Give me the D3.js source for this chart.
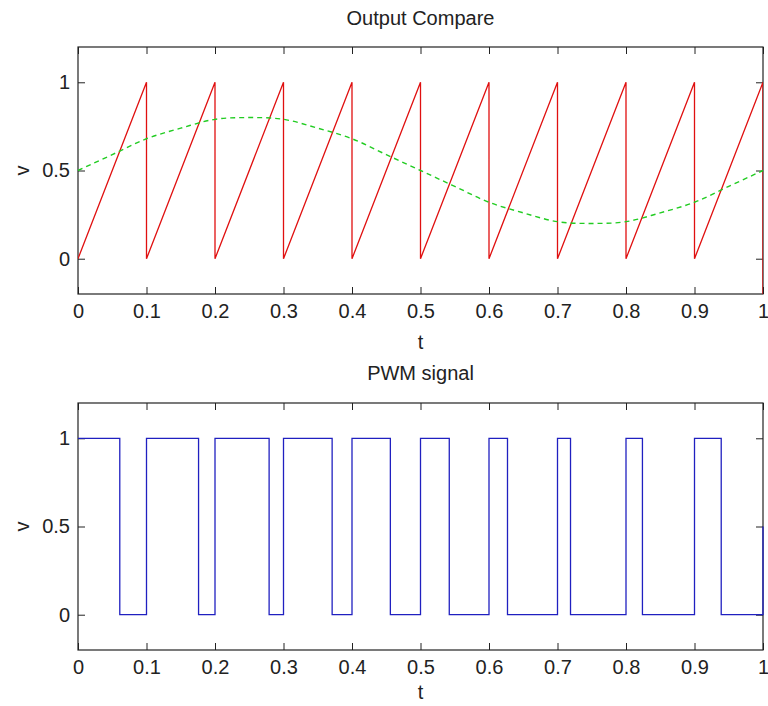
<!DOCTYPE html>
<html>
<head>
<meta charset="utf-8">
<script src="https://cdn.jsdelivr.net/npm/d3@7"></script>
<style>
  body { margin: 0; background: #fff; }
  svg text { font-family: "Liberation Sans", Arial, sans-serif; fill: #222; }
</style>
</head>
<body>
<svg id="chart" width="768" height="706"></svg>
<script>
// tick labels
var xTicks = [0, 0.1, 0.2, 0.3, 0.4, 0.5, 0.6, 0.7, 0.8, 0.9, 1];
var yTicks = [0, 0.5, 1];

// sawtooth carrier (red)
var sawT = [0, 0.1, 0.1, 0.2, 0.2, 0.3, 0.3, 0.4, 0.4, 0.5, 0.5, 0.6, 0.6, 0.7, 0.7, 0.8, 0.8, 0.9, 0.9, 1, 1];
var sawV = [0, 1, 0, 1, 0, 1, 0, 1, 0, 1, 0, 1, 0, 1, 0, 1, 0, 1, 0, 1, -0.2];

// reference signal (green dashed)
var refT = [0, 0.05, 0.1, 0.15, 0.2, 0.25, 0.3, 0.35, 0.4, 0.45, 0.5, 0.55, 0.6, 0.65, 0.7, 0.75, 0.8, 0.85, 0.9, 0.95, 1];
var refV = [0.5, 0.59, 0.68, 0.74, 0.79, 0.8, 0.79, 0.74, 0.68, 0.59, 0.5, 0.41, 0.32, 0.26, 0.21, 0.2, 0.21, 0.26, 0.32, 0.41, 0.5];

// PWM output edges (blue)
var pwmT = [0, 0.061, 0.1, 0.176, 0.2, 0.279, 0.3, 0.371, 0.4, 0.456, 0.5, 0.542, 0.6, 0.627, 0.7, 0.719, 0.8, 0.824, 0.9, 0.939, 1];
var pwmV = [1, 0, 1, 0, 1, 0, 1, 0, 1, 0, 1, 0, 1, 0, 1, 0, 1, 0, 1, 0, 0.5];

var svg = d3.select("#chart");
var left = 78, right = 763;

var x = d3.scaleLinear().domain([0, 1]).range([left, right]);

function panel(top, bottom, title, titleY, tLabelY, idx) {
  var y = d3.scaleLinear().domain([-0.2, 1.2]).range([bottom, top]);
  var g = svg.append("g");

  g.append("clipPath").attr("id", "clip" + idx)
    .append("rect").attr("x", left).attr("y", top)
    .attr("width", right - left).attr("height", bottom - top);

  var fmt = d3.format("~g");

  g.append("g").attr("transform", "translate(0," + bottom + ")")
    .call(d3.axisBottom(x).tickValues(xTicks).tickSize(-7).tickPadding(10).tickFormat(fmt));
  g.append("g").attr("transform", "translate(0," + top + ")")
    .call(d3.axisTop(x).tickValues(xTicks).tickSize(-7).tickFormat(""));
  g.append("g").attr("transform", "translate(" + left + ",0)")
    .call(d3.axisLeft(y).tickValues(yTicks).tickSize(-7).tickPadding(8).tickFormat(fmt));
  g.append("g").attr("transform", "translate(" + right + ",0)")
    .call(d3.axisRight(y).tickValues(yTicks).tickSize(-7).tickFormat(""));

  g.selectAll(".domain").remove();
  g.selectAll(".tick line").attr("stroke", "#222");
  g.selectAll(".tick text").style("font-size", "20px").attr("fill", "#222");

  g.append("rect").attr("x", left).attr("y", top)
    .attr("width", right - left).attr("height", bottom - top)
    .attr("fill", "none").attr("stroke", "#222").attr("stroke-width", 1.2);

  g.append("text").attr("x", (left + right) / 2).attr("y", titleY)
    .attr("text-anchor", "middle").attr("dominant-baseline", "central")
    .style("font-size", "20px").text(title);

  g.append("text").attr("x", (left + right) / 2).attr("y", tLabelY)
    .attr("text-anchor", "middle").attr("dominant-baseline", "central")
    .style("font-size", "20px").text("t");

  g.append("text")
    .attr("transform", "translate(22," + y(0.5) + ") rotate(-90)")
    .attr("text-anchor", "middle").attr("dominant-baseline", "central")
    .style("font-size", "20px").text("v");

  return { g: g, y: y };
}

// top panel: carrier and reference
var p1 = panel(47, 294, "Output Compare", 18, 342, 1);

var sawLine = d3.line()
  .x(function(d, i) { return x(sawT[i]); })
  .y(function(d) { return p1.y(d); });
p1.g.append("path").datum(sawV)
  .attr("clip-path", "url(#clip1)")
  .attr("d", sawLine)
  .attr("fill", "none").attr("stroke", "#e01010").attr("stroke-width", 1.3);

var refLine = d3.line()
  .x(function(d, i) { return x(refT[i]); })
  .y(function(d) { return p1.y(d); })
  .curve(d3.curveCatmullRom);
p1.g.append("path").datum(refV)
  .attr("d", refLine)
  .attr("fill", "none").attr("stroke", "#22cc22").attr("stroke-width", 1.4)
  .attr("stroke-dasharray", "5,4");

// bottom panel: PWM output
var p2 = panel(403, 650, "PWM signal", 373, 692, 2);

var pwmLine = d3.line()
  .x(function(d, i) { return x(pwmT[i]); })
  .y(function(d) { return p2.y(d); })
  .curve(d3.curveStepAfter);
p2.g.append("path").datum(pwmV)
  .attr("d", pwmLine)
  .attr("fill", "none").attr("stroke", "#2020c0").attr("stroke-width", 1.3);
</script>
</body>
</html>
